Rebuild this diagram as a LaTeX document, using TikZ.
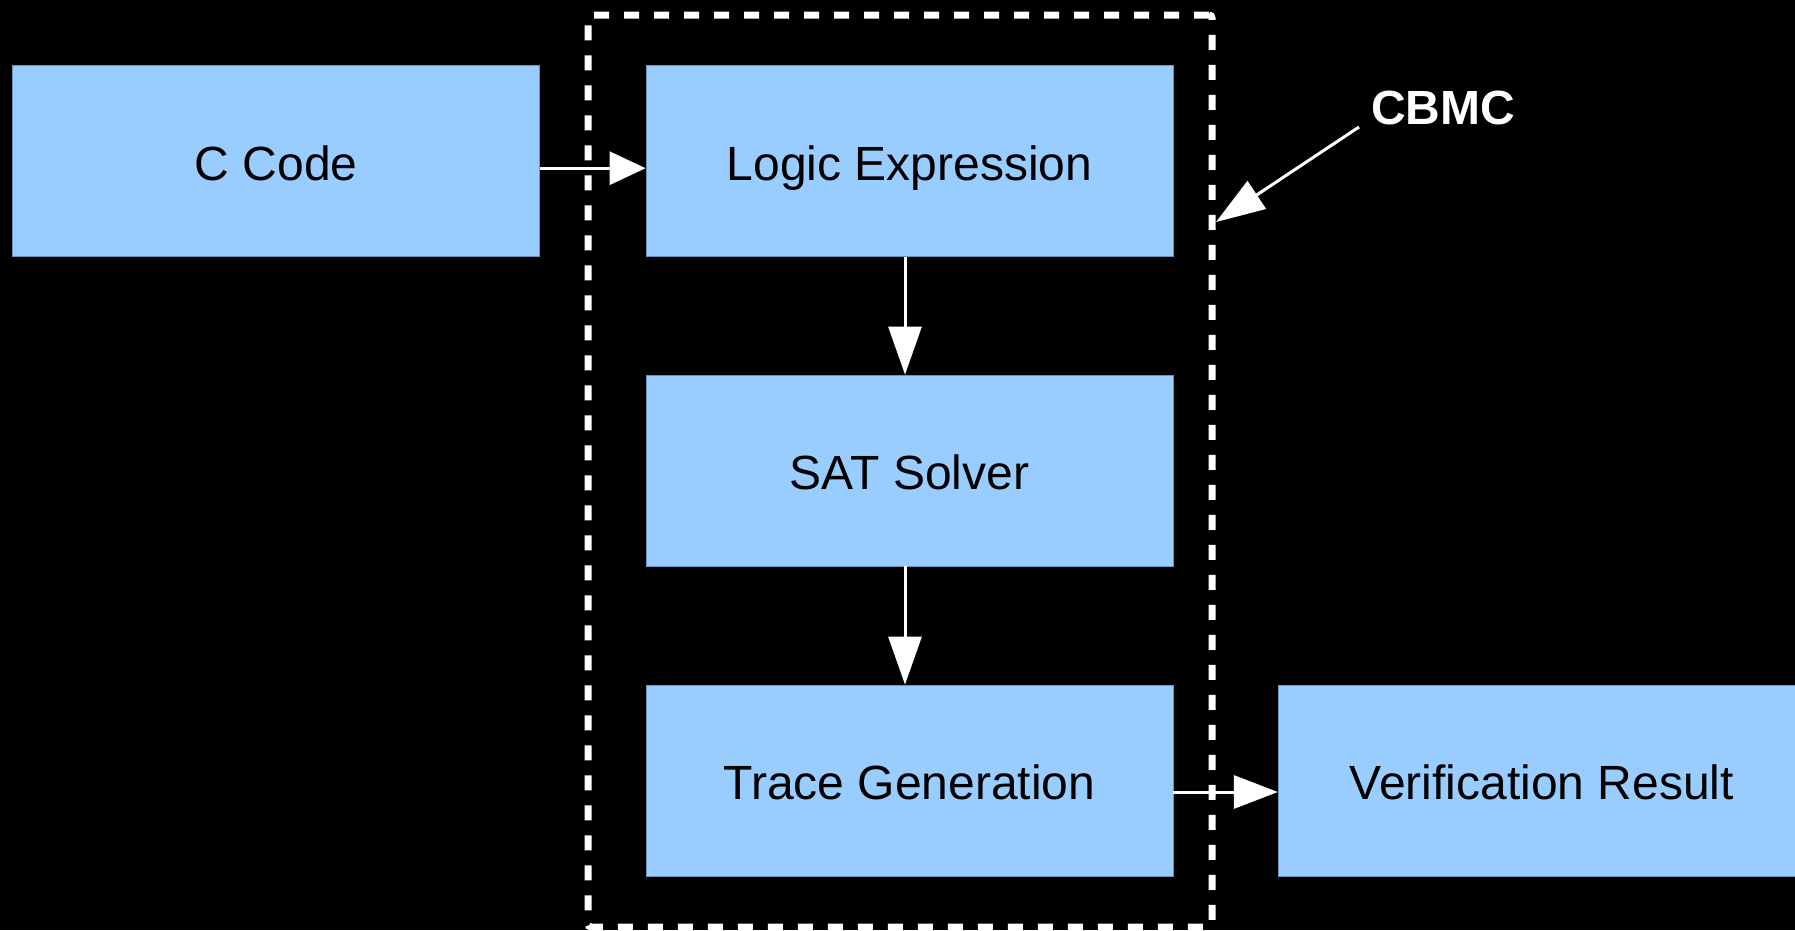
\documentclass[tikz,border=0pt]{standalone}
\usepackage{fontspec}
\setmainfont{Liberation Sans}
\usetikzlibrary{arrows.meta}
\definecolor{boxfill}{HTML}{99CCFF}
\definecolor{boxline}{HTML}{6A94BE}
\tikzset{
  stagebox/.style={draw=boxline, line width=0.8pt, fill=boxfill, minimum width=527pt, minimum height=191pt, inner sep=0pt, text=black, text height=38pt, text depth=0pt, font=\fontsize{48}{57}\selectfont},
  arrh/.style={draw=white, line width=3pt, -{Triangle[length=44pt,width=33pt]}},
  arrv/.style={draw=white, line width=3pt, -{Triangle[length=48pt,width=33pt]}},
}
\begin{document}
\begin{tikzpicture}[x=1pt,y=-1pt]
\clip (0,0) rectangle (1795,930);
\fill[black] (0,0) rectangle (1795,930);
\useasboundingbox (0,0) rectangle (1795,930);
\node[draw=white, line width=7pt, dash pattern=on 15pt off 15pt, rounded corners=3pt, minimum width=624pt, minimum height=912pt, inner sep=0pt] (cbmcbox) at (900,471) {};
\node[stagebox] (ccode) at (276.3,161.2) {C Code};
\node[stagebox] (logic) at (909.5,161.2) {Logic Expression};
\node[stagebox] (sat) at (909.5,470.5) {SAT Solver};
\node[stagebox] (trace) at (909.5,780.5) {Trace Generation};
\node[stagebox] (verif) at (1541.75,780.5) {Verification Result};
\node[text=white, text height=35pt, text depth=0pt, font=\fontsize{48}{57}\selectfont\bfseries] (cbmc) at (1443,107) {CBMC};
\coordinate (cbmcfrom) at (1359,127);
\coordinate (cbmctip) at (1216,222);
\draw[white, line width=3pt, -{Triangle[length=49pt,width=33pt]}] (cbmcfrom) -- (cbmctip);
\draw[arrh, -{Triangle[length=36pt,width=33pt]}] ([yshift=-7pt]ccode.east) -- ([yshift=-7pt]logic.west);
\draw[arrv] ([xshift=-4.5pt]logic.south) -- ([xshift=-4.5pt]sat.north);
\draw[arrv] ([xshift=-4.5pt]sat.south) -- ([xshift=-4.5pt]trace.north);
\draw[arrh] ([yshift=-11.5pt]trace.east) -- ([yshift=-11.5pt]verif.west);
\end{tikzpicture}
\end{document}
